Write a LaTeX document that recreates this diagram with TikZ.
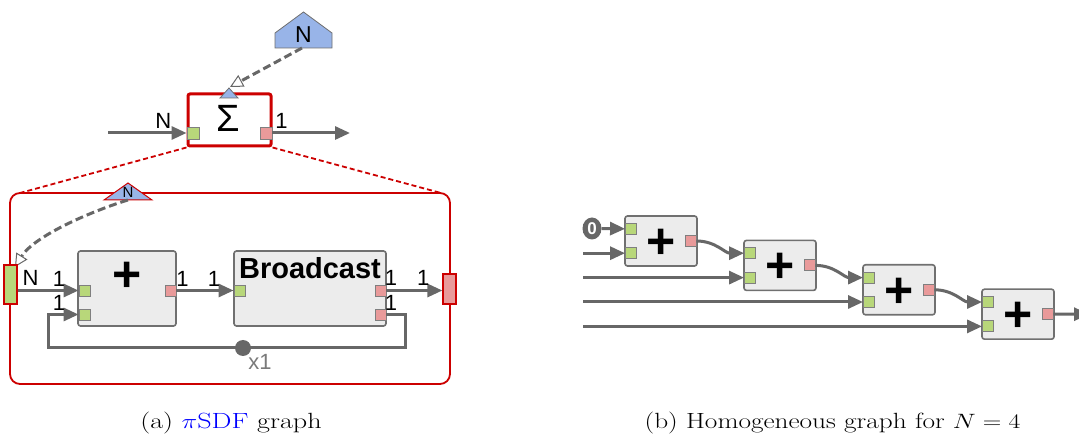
\documentclass[tikz,border=0pt]{standalone}
\usepackage{fontspec}
\usepackage{graphicx}
\usetikzlibrary{arrows.meta,shapes.geometric,calc}
\newfontfamily\arialf{Liberation Sans}
\definecolor{lgray}{HTML}{676767}
\definecolor{xgray}{HTML}{7A7A7A}
\definecolor{pgreen}{HTML}{B8D77A}
\definecolor{pred}{HTML}{E99A9A}
\definecolor{portdraw}{HTML}{7F7F7F}
\definecolor{actfill}{HTML}{ECECEC}
\definecolor{actdraw}{HTML}{707070}
\definecolor{sred}{HTML}{CC0000}
\definecolor{pblue}{HTML}{98B4E8}
\definecolor{housedraw}{HTML}{6F6F6F}
\tikzset{
  actor/.style={draw=actdraw, fill=actfill, line width=1.6pt, rounded corners=2.5pt, inner sep=0},
  inport/.style={draw=portdraw, fill=pgreen, line width=0.9pt, minimum size=11pt, inner sep=0},
  outport/.style={draw=portdraw, fill=pred, line width=0.9pt, minimum size=11pt, inner sep=0},
  edge/.style={draw=lgray, line width=3pt, -{Triangle[length=15pt,width=13pt]}},
  lbl/.style={font=\arialf\fontsize{22}{22}\selectfont, inner sep=0, text=black},
  dep/.style={draw=lgray, line width=3pt, dash pattern=on 8pt off 4pt,
    -{Triangle[open,length=13pt,width=13pt,line width=1pt,fill=white]}},
  plustxt/.style={font=\arialf\bfseries\fontsize{50}{50}\selectfont, inner sep=0, anchor=base},
  captxt/.style={font=\fontsize{22}{26}\selectfont, anchor=base, inner sep=0},
}
\begin{document}
\begin{tikzpicture}[x=1pt,y=-1pt]
\useasboundingbox (0,0) rectangle (1079,435);

% ---------- Sigma hierarchical actor ----------
\node[draw=sred, line width=3pt, rounded corners=2pt, minimum width=83pt, minimum height=52pt, inner sep=0] (sigma) at (229.5,120) {};
\node[font=\arialf\fontsize{38}{38}\selectfont, inner sep=0] (sigtxt) at (228.7,118) {Σ};
\node[inport, minimum size=12pt] (sin) at (193,133) {};
\node[outport, minimum size=12pt] (sout) at (266,133) {};
\coordinate (sigL) at (108,133);
\coordinate (sigR) at (350,133);
\draw[edge] (sigL) -- (sin.west);
\draw[edge] (sout.east) -- (sigR);
\node[lbl] (sN) at (163.3,121) {N};
\node[lbl] (s1) at (281.5,121) {1};

% parameter port of Sigma
\draw[fill=pblue, draw=housedraw, line width=0.8pt] (220,98) -- (229,88) -- (238,98) -- cycle;
\coordinate (sigP) at (230,87);
% parameter N (house)
\draw[fill=pblue, draw=housedraw, line width=0.8pt] (275,48) -- (332,48) -- (332,33) -- (303.5,12) -- (275,33) -- cycle;
\node[font=\arialf\fontsize{23}{23}\selectfont, inner sep=0] (parN) at (303.5,34.5) {N};
\coordinate (parNb) at (302,48);
\draw[dep] (parNb) -- (sigP);

% ---------- sub-graph ----------
\node[draw=sred, line width=1.8pt, rounded corners=10pt, minimum width=440pt, minimum height=191pt, inner sep=0] (sub) at (230,288.5) {};
\coordinate (subTL) at (20,193);
\coordinate (subTR) at (441,193);
\draw[sred, line width=1.8pt, dash pattern=on 5pt off 3pt] (sigma.south west) -- (subTL);
\draw[sred, line width=1.8pt, dash pattern=on 5pt off 3pt] (sigma.south east) -- (subTR);

% config input N of subgraph
\draw[fill=pblue, draw=sred, line width=1pt] (104,200) -- (128,183) -- (152,200) -- cycle;
\node[font=\arialf\fontsize{15}{15}\selectfont, inner sep=0] (subN) at (128,192.5) {N};
\coordinate (subPb) at (128,200);
\coordinate (ifinTip) at (15,267);
\draw[dep] (subPb) .. controls (95,210) and (35,235) .. (ifinTip);

% interfaces
\node[draw=sred, fill=pgreen, line width=1.2pt, minimum width=13pt, minimum height=39pt, inner sep=0] (ifin) at (10.5,284.5) {};
\node[draw=sred, fill=pred, line width=1.2pt, minimum width=13pt, minimum height=30pt, inner sep=0] (ifout) at (449.5,289) {};

% actors
\node[actor, minimum width=98pt, minimum height=75pt] (plus) at (127,288.5) {};
\node[actor, minimum width=152pt, minimum height=75pt] (bc) at (310,288.5) {};
\node[plustxt] (plustx) at (127,292) {+};
\node[font=\arialf\bfseries\fontsize{29}{29}\selectfont, inner sep=0, anchor=base] (bctxt) at (310,279) {Broadcast};
\node[inport] (pin1) at (84.5,290.5) {};
\node[inport] (pin2) at (84.5,314.5) {};
\node[outport] (pout) at (170.5,290.5) {};
\node[inport] (bin) at (239.5,290.5) {};
\node[outport] (bo1) at (380.5,290.5) {};
\node[outport] (bo2) at (380.5,314.5) {};

% edges
\draw[edge] (ifin.east |- pin1) -- (pin1.west);
\draw[edge] (pout.east) -- (bin.west);
\draw[edge] (bo1.east) -- (bo1.east -| ifout.west);
\coordinate (fbR) at (405,348);
\coordinate (fbL) at (48,348);
\draw[edge] (bo2.east) -| (fbR) -- (fbL) |- (pin2.west);
\node[circle, fill=lgray, minimum size=16pt, inner sep=0] (delay) at (243,348) {};
\node[lbl, text=xgray] (x1) at (260,361.5) {x1};

% rates
\node[lbl] (rN) at (30.5,278) {N};
\node[lbl] (r1) at (59,279) {1};
\node[lbl] (r2) at (59,303) {1};
\node[lbl] (r3) at (182.5,279) {1};
\node[lbl] (r4) at (214,279) {1};
\node[lbl] (r5) at (391,278) {1};
\node[lbl] (r6) at (391,303) {1};
\node[lbl] (r7) at (423.3,278) {1};

% ---------- homogeneous graph ----------
\foreach \k in {0,1,2,3}{
  \pgfmathsetmacro\cx{661+119*\k}
  \pgfmathsetmacro\cy{241+24.4*\k}
  \node[actor, minimum width=72pt, minimum height=50pt] (h\k) at (\cx,\cy) {};
  \node[plustxt] (hP\k) at (\cx,\cy+17.6) {+};
  \node[inport] (hA\k) at (\cx-30,\cy-12.2) {};
  \node[inport] (hB\k) at (\cx-30,\cy+12.2) {};
  \node[outport] (hO\k) at (\cx+29.5,\cy) {};
  \coordinate (hL\k) at (583,\cy+12.2);
  \draw[edge] (hL\k) -- (hB\k.west);
}
\node[ellipse, fill=lgray, minimum width=19pt, minimum height=22pt, inner sep=0,
      font=\arialf\bfseries\fontsize{17}{17}\selectfont, text=white] (zero) at (592,228.5) {0};
\draw[edge] (zero.east) -- (hA0.west);
\draw[edge] (hO0.east) to[out=0,in=180] (hA1.west);
\draw[edge] (hO1.east) to[out=0,in=180] (hA2.west);
\draw[edge] (hO2.east) to[out=0,in=180] (hA3.west);
\coordinate (hEnd) at (1089,314.2);
\draw[edge] (hO3.east) -- (hEnd);

% ---------- captions ----------
\node[captxt] (capA) at (231,428.5)
  {\scalebox{1.28}[1]{(a) {\color{blue}$\pi$SDF} graph}};
\node[captxt] (capB) at (832.5,428.5)
  {\scalebox{1.24}[1]{(b) Homogeneous graph for $N=4$}};
\end{tikzpicture}
\end{document}
